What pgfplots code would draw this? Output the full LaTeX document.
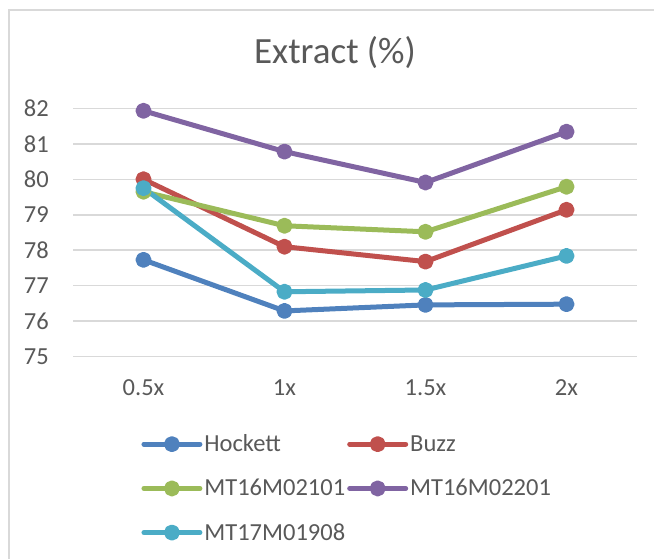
\documentclass[border=0pt]{standalone}
\usepackage{pgfplots}
\pgfplotsset{compat=1.18}
\usepackage{fontspec}
\setmainfont{Carlito}
\definecolor{txt}{HTML}{595959}
\definecolor{gridc}{HTML}{D9D9D9}
\definecolor{c1}{HTML}{4F81BD}
\definecolor{c2}{HTML}{C0504D}
\definecolor{c3}{HTML}{9BBB59}
\definecolor{c4}{HTML}{8064A2}
\definecolor{c5}{HTML}{4BACC6}
\begin{document}
\begin{tikzpicture}[x=1pt,y=1pt]
\useasboundingbox (0,0) rectangle (654,558);
\draw[color=gridc, line width=2pt] (8.5,-5) -- (8.5,548) -- (660,548);
\node[text=txt, font=\fontsize{37}{42}\selectfont] at (335,505) {Extract (\%)};
\begin{axis}[
  at={(73pt,201.3pt)}, anchor=south west,
  scale only axis, width=564pt, height=248.4pt,
  xmin=-0.5, xmax=3.5, ymin=75, ymax=82,
  xtick={0,1,2,3}, xticklabels={0.5x,1x,1.5x,2x},
  ytick={75,76,...,82},
  ymajorgrids, grid style={gridc, line width=1.5pt},
  axis line style={draw=none},
  major tick length=0pt,
  tick label style={font=\fontsize{24.5}{29}\selectfont, text=txt},
  /pgf/number format/assume math mode=true,
  yticklabel style={anchor=east, inner sep=0pt, xshift=-24pt},
  xticklabel style={anchor=north, inner sep=0pt, yshift=-23pt},
  clip=false,
  every axis plot/.append style={line width=5pt, line join=round, mark=*, mark size=5.5pt, mark options={solid}},
  legend columns=2,
  legend style={at={(0.121,-0.306)}, anchor=north west, draw=none, fill=none,
    font=\fontsize{24.5}{29}\selectfont, text=txt, row sep=22pt, inner sep=0pt,
    column sep=0pt, nodes={inner xsep=2pt}},
  legend cell align=left,
  legend image code/.code={\draw[mark repeat=2, mark phase=2, line cap=round, #1] plot coordinates {(0pt,0pt) (28pt,0pt) (56pt,0pt)};},
]
\addplot[c1, mark options={fill=c1, draw=c1}] coordinates {(0,77.73) (1,76.29) (2,76.46) (3,76.48)};
\addlegendentry{Hockett}
\addplot[c2, mark options={fill=c2, draw=c2}] coordinates {(0,80.00) (1,78.10) (2,77.68) (3,79.14)};
\addlegendentry{Buzz}
\addplot[c3, mark options={fill=c3, draw=c3}] coordinates {(0,79.65) (1,78.69) (2,78.52) (3,79.79)};
\addlegendentry{MT16M02101}
\addplot[c4, mark options={fill=c4, draw=c4}] coordinates {(0,81.93) (1,80.78) (2,79.91) (3,81.34)};
\addlegendentry{MT16M02201}
\addplot[c5, mark options={fill=c5, draw=c5}] coordinates {(0,79.75) (1,76.83) (2,76.88) (3,77.84)};
\addlegendentry{MT17M01908}
\end{axis}
\end{tikzpicture}
\end{document}
